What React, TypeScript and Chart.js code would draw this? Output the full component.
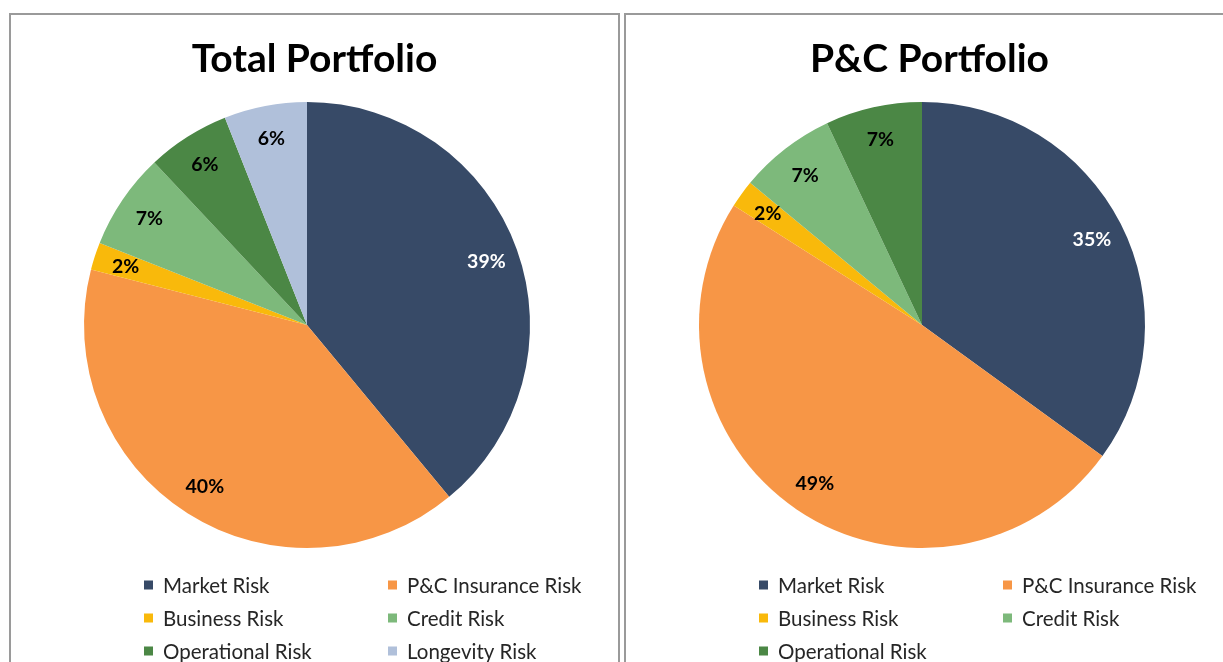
import React, { useEffect, useRef } from "react";
import { Chart, registerables } from "chart.js";

Chart.register(...registerables);

const totalLabels = ["Market Risk", "P&C Insurance Risk", "Business Risk", "Credit Risk", "Operational Risk", "Longevity Risk"];
const totalValues = [39, 40, 2, 7, 6, 6];

const pcLabels = ["Market Risk", "P&C Insurance Risk", "Business Risk", "Credit Risk", "Operational Risk"];
const pcValues = [35, 49, 2, 7, 7];

const riskColors = ["#374A67", "#F79646", "#F9B90B", "#7DB97B", "#4B8745", "#B0C0DA"];
const labelColors = ["#FFFFFF", "#000000", "#000000", "#000000", "#000000", "#000000"];

const FONT = "Lato, Carlito, Calibri, 'Open Sans', sans-serif";

const panelTitlePlugin = {
  id: "panelTitle",
  afterDraw(chart: any, _args: any, opts: any) {
    const ctx = chart.ctx;
    ctx.save();
    ctx.font = `bold 39px ${FONT}`;
    ctx.fillStyle = "#000000";
    ctx.textAlign = "center";
    ctx.textBaseline = "alphabetic";
    ctx.fillText(opts.text, chart.width / 2, 57);
    ctx.restore();
  },
};

const sliceLabelPlugin = {
  id: "sliceLabels",
  afterDatasetsDraw(chart: any) {
    const ctx = chart.ctx;
    const meta = chart.getDatasetMeta(0);
    const values = chart.data.datasets[0].data as number[];
    ctx.save();
    ctx.font = `bold 19.5px ${FONT}`;
    ctx.textAlign = "center";
    ctx.textBaseline = "middle";
    meta.data.forEach((arc: any, i: number) => {
      const p = arc.getProps(["x", "y", "startAngle", "endAngle", "outerRadius"], true);
      const mid = (p.startAngle + p.endAngle) / 2;
      const r = p.outerRadius * 0.855;
      ctx.fillStyle = labelColors[i];
      ctx.fillText(`${values[i]}%`, p.x + Math.cos(mid) * r, p.y + Math.sin(mid) * r + 1);
    });
    ctx.restore();
  },
};

const gridLegendPlugin = {
  id: "gridLegend",
  afterDraw(chart: any) {
    const ctx = chart.ctx;
    const meta = chart.getDatasetMeta(0);
    const arc = meta.data[0];
    if (!arc) return;
    const cx = arc.x;
    const labels = chart.data.labels as string[];
    const colors = chart.data.datasets[0].backgroundColor as string[];
    ctx.save();
    ctx.font = `20.5px ${FONT}`;
    ctx.textBaseline = "middle";
    ctx.textAlign = "left";
    labels.forEach((lab, i) => {
      const col = i % 2;
      const row = Math.floor(i / 2);
      const mx = cx + (col === 0 ? -163 : 81);
      const my = 570 + row * 33;
      ctx.fillStyle = colors[i];
      ctx.fillRect(mx, my - 4.5, 9, 9);
      ctx.fillStyle = "#262626";
      ctx.fillText(lab, mx + 19, my + 1);
    });
    ctx.restore();
  },
};

function PiePanel(props: { title: string; labels: string[]; values: number[]; left: number; width: number }) {
  const ref = useRef<HTMLCanvasElement>(null);
  const canvasW = props.width - 4;
  const canvasH = 662 - 15;
  useEffect(() => {
    if (!ref.current) return;
    const cx = 296;
    const chart = new Chart(ref.current, {
      type: "pie",
      data: {
        labels: props.labels,
        datasets: [
          {
            data: props.values,
            backgroundColor: riskColors.slice(0, props.values.length),
            borderWidth: 0,
            hoverOffset: 0,
          },
        ],
      },
      options: {
        animation: false,
        responsive: false,
        maintainAspectRatio: false,
        events: [],
        layout: {
          padding: { top: 87, bottom: canvasH - 533, left: cx - 236, right: canvasW - cx - 236 },
        },
        plugins: {
          legend: { display: false },
          tooltip: { enabled: false },
          title: { display: false },
          panelTitle: { text: props.title },
        } as any,
      },
      plugins: [panelTitlePlugin, sliceLabelPlugin, gridLegendPlugin],
    });
    return () => chart.destroy();
  }, []);
  return (
    <div
      style={{
        position: "absolute",
        left: props.left,
        top: 13,
        width: props.width - 4,
        height: 700,
        border: "2px solid #9a9a9a",
        background: "#fff",
        overflow: "hidden",
      }}
    >
      <canvas ref={ref} width={canvasW} height={canvasH} style={{ display: "block", width: canvasW, height: canvasH }} />
    </div>
  );
}

export default function App() {
  return (
    <div
      style={{
        position: "fixed",
        left: 0,
        top: 0,
        width: 1223,
        height: 662,
        overflow: "hidden",
        background: "#fff",
      }}
    >
      <PiePanel title="Total Portfolio" labels={totalLabels} values={totalValues} left={9} width={611} />
      <PiePanel title="P&C Portfolio" labels={pcLabels} values={pcValues} left={624} width={611} />
    </div>
  );
}
